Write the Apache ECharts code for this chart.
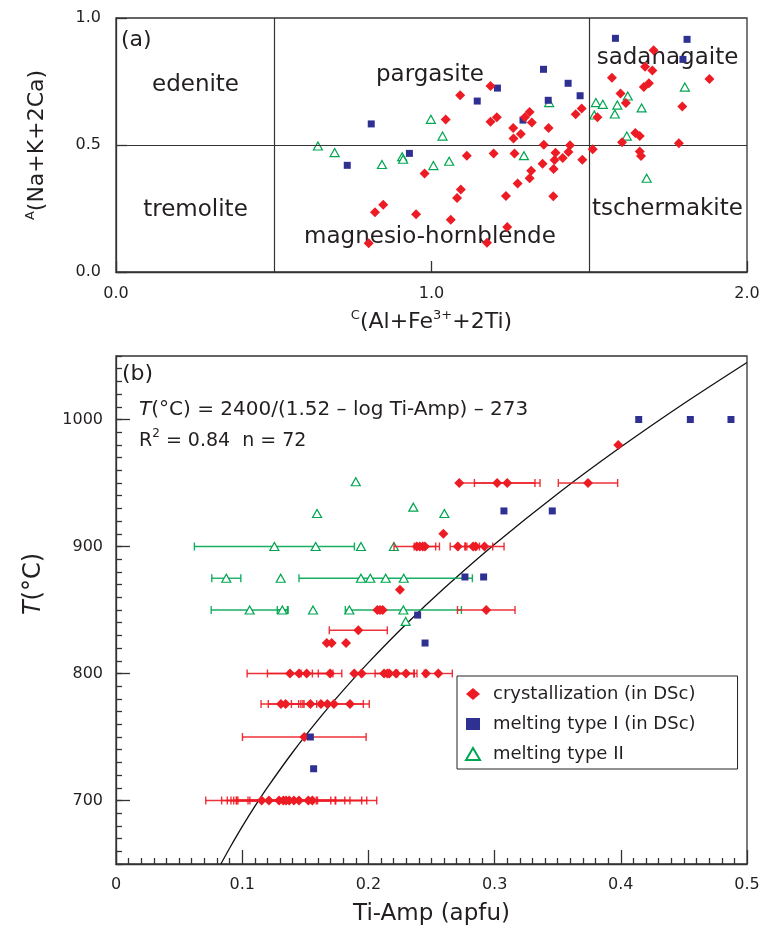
<!DOCTYPE html>
<html><head><meta charset="utf-8">
<script src="https://cdn.jsdelivr.net/npm/echarts@6/dist/echarts.min.js"></script>
<style>html,body{margin:0;padding:0;background:#fff}#c{width:765px;height:936px}</style>
</head><body><div id="c"></div>
<script>
const FONT = "'DejaVu Sans', sans-serif";
const RED = '#ed1c24', BLUE = '#2e3192', GREEN = '#00a651', INK = '#231f20';

// ---------- Panel (a) : classification ----------
const aCrystallization = [
 [1.187,0.732],[1.091,0.696],[1.045,0.600],[1.187,0.592],[1.207,0.609],[1.259,0.567],[1.283,0.543],
 [1.260,0.526],[1.296,0.609],[1.311,0.630],[1.318,0.589],[1.371,0.567],[1.457,0.621],[1.476,0.644],
 [1.526,0.609],[1.112,0.458],[1.197,0.467],[1.263,0.467],[1.356,0.501],[1.439,0.499],[1.393,0.469],
 [1.434,0.472],[1.416,0.449],[1.390,0.441],[1.352,0.426],[1.478,0.442],[1.511,0.483],[1.387,0.406],
 [1.316,0.399],[1.311,0.369],[1.273,0.348],[1.236,0.299],[1.386,0.298],[1.093,0.325],[1.081,0.291],
 [0.978,0.388],[0.847,0.265],[0.821,0.235],[0.951,0.227],[1.061,0.206],[1.240,0.177],[0.801,0.113],
 [1.176,0.115],[1.704,0.873],[1.677,0.808],[1.700,0.793],[1.572,0.765],[1.881,0.760],[1.673,0.728],
 [1.689,0.743],[1.599,0.703],[1.616,0.665],[1.795,0.652],[1.646,0.547],[1.660,0.535],[1.604,0.511],
 [1.784,0.507],[1.660,0.474],[1.664,0.457]
];
const aMeltingI = [
 [0.809,0.583],[1.145,0.673],[1.209,0.724],[1.355,0.798],[1.433,0.743],[1.370,0.676],[1.471,0.694],
 [1.290,0.598],[1.583,0.920],[1.810,0.916],[1.797,0.837],[0.733,0.420],[0.930,0.467]
];
const aMeltingII = [
 [0.998,0.601],[1.035,0.535],[1.373,0.667],[0.640,0.496],[0.693,0.470],[0.843,0.423],[0.907,0.454],
 [0.910,0.444],[1.006,0.419],[1.056,0.436],[1.293,0.458],[1.521,0.667],[1.543,0.660],[1.622,0.693],
 [1.589,0.657],[1.516,0.618],[1.581,0.622],[1.666,0.646],[1.803,0.728],[1.619,0.535],[1.682,0.369]
];
const aBoundaryX = [0.5, 1.5];
const aBoundaryY = [0.5];
const aFieldNames = ['edenite','tremolite','pargasite','magnesio-hornblende','sadanagaite','tschermakite'];
const aFieldPos = [[0.252,0.736],[0.252,0.244],[0.995,0.776],[0.995,0.137],[1.748,0.844],[1.748,0.248]];

// ---------- Panel (b) : thermometer ----------
// [Ti-Amp, T, half error bar]
const bCrystallization = [
 [0.398,980,0],
 [0.272,950,0],[0.302,950,0.030],[0.310,950,0.026],[0.374,950,0.0235],
 [0.2594,910,0],
 [0.2383,900,0.018],[0.2407,900,0],[0.243,900,0],[0.2448,900,0.0085],[0.2708,900,0.006],[0.283,900,0.005],[0.285,900,0.0135],[0.292,900,0.0155],
 [0.225,866,0],
 [0.2071,850,0],[0.2092,850,0],[0.2113,850,0],[0.2934,850,0.0228],
 [0.192,834,0.023],
 [0.167,824,0],[0.1709,824,0],[0.1823,824,0],
 [0.1379,800,0.034],[0.145,800,0.025],[0.1511,800,0.0045],[0.1696,800,0.0093],[0.1888,800,0],[0.1947,800,0],[0.2124,800,0],
 [0.215,800,0.021],[0.2166,800,0],[0.2219,800,0.0166],[0.2298,800,0.0066],[0.2456,800,0],[0.2554,800,0.0111],
 [0.1307,776,0.0158],[0.1344,776,0.0137],[0.154,776,0.005],[0.1624,776,0],[0.1675,776,0.0285],[0.1727,776,0.028],[0.1854,776,0],
 [0.1492,750,0.049],
 [0.1154,700,0.0443],[0.1212,700,0.0375],[0.1292,700,0.041],[0.1326,700,0.0415],[0.1347,700,0.039],
 [0.1373,700,0.044],[0.141,700,0.0444],[0.145,700,0.0497],[0.1524,700,0.0463],[0.1556,700,0.051]
];
const bMeltingI = [
 [0.4142,1000],[0.4551,1000],[0.4873,1000],[0.3074,928],[0.3457,928],[0.2765,876],[0.2913,876],
 [0.239,846],[0.2449,824],[0.154,750],[0.1566,725]
];
const bMeltingII = [
 [0.19,951,0],[0.1593,926,0],[0.2356,931,0],[0.2602,926,0],
 [0.1255,900,0.0634],[0.1582,900,0],[0.1941,900,0],[0.2202,900,0],
 [0.0874,875,0.0115],[0.1305,875,0],[0.1941,875,0],[0.2015,875,0],[0.2137,875,0.0687],[0.228,875,0],
 [0.1059,850,0.0305],[0.1318,850,0.004],[0.1561,850,0],[0.1849,850,0],[0.2277,850,0.046],
 [0.2295,841,0]
];
// fitted curve T = 2400/(1.52 - log Ti-Amp) - 273
const fitX = [0.0831,0.09,0.10,0.11,0.12,0.14,0.16,0.18,0.20,0.23,0.26,0.30,0.35,0.40,0.45,0.50];
const fitT = [650,662.4,679.4,695.3,710.3,738.0,763.3,786.7,808.6,839.0,867.1,901.8,941.6,978.3,1012.6,1044.9];
const bMajorT = [700,800,900,1000];

const NAMES = ['crystallization (in DSc)','melting type I (in DSc)','melting type II'];

function errRenderer(color) {
  return function (params, api) {
    const e = api.value(2);
    if (!e) return null;
    const x = api.value(0), y = api.value(1);
    const p1 = api.coord([x - e, y]), p2 = api.coord([x + e, y]);
    const h = 4;
    const style = { stroke: color, lineWidth: 1.4, opacity: 0.9 };
    return { type: 'group', children: [
      { type: 'line', shape: { x1: p1[0], y1: p1[1], x2: p2[0], y2: p2[1] }, style },
      { type: 'line', shape: { x1: p1[0], y1: p1[1] - h, x2: p1[0], y2: p1[1] + h }, style },
      { type: 'line', shape: { x1: p2[0], y1: p2[1] - h, x2: p2[0], y2: p2[1] + h }, style }
    ]};
  };
}

const axisLineStyle = { color: '#333', width: 1.3 };
const tickLbl = { fontFamily: FONT, fontSize: 16, color: INK };
const supRich = {
  n: { fontFamily: FONT, fontSize: 22, color: INK, lineHeight: 26 },
  sup: { fontFamily: FONT, fontSize: 13, color: INK, verticalAlign: 'top', lineHeight: 14 },
  it: { fontFamily: FONT, fontSize: 24, color: INK, fontStyle: 'italic', lineHeight: 28 },
  m: { fontFamily: FONT, fontSize: 24, color: INK, lineHeight: 28 }
};
const redStyle = { color: RED, opacity: 1 };
const blueStyle = { color: BLUE, opacity: 1 };
const greenStyle = { color: '#fff', borderColor: GREEN, borderWidth: 1.2, opacity: 1 };

const chart = echarts.init(document.getElementById('c'), null, { renderer: 'canvas' });
chart.setOption({
  animation: false,
  backgroundColor: '#fff',
  textStyle: { fontFamily: FONT },
  grid: [
    { left: 116, top: 18, width: 631, height: 254, show: true, borderColor: '#333', borderWidth: 1.3, containLabel: false, outerBoundsMode: 'none' },
    { left: 116, top: 356, width: 631, height: 508, show: true, borderColor: '#333', borderWidth: 1.3, containLabel: false, outerBoundsMode: 'none' }
  ],
  xAxis: [
    { gridIndex: 0, type: 'value', min: 0, max: 2, interval: 1,
      axisLine: { show: true, onZero: false, lineStyle: axisLineStyle },
      axisTick: { show: true, inside: true, length: 11, lineStyle: axisLineStyle },
      axisLabel: Object.assign({ margin: 14, formatter: v => v.toFixed(1) }, tickLbl),
      splitLine: { show: false },
      name: '{sup|C}{n|(Al+Fe}{sup|3+}{n|+2Ti)}', nameLocation: 'middle', nameGap: 37, nameMoveOverlap: false,
      nameTextStyle: { rich: supRich } },
    { gridIndex: 1, type: 'value', min: 0, max: 0.5, interval: 0.1,
      axisLine: { show: true, onZero: false, lineStyle: axisLineStyle },
      axisTick: { show: true, inside: true, length: 14, lineStyle: axisLineStyle },
      minorTick: { show: true, splitNumber: 10, length: 6, lineStyle: axisLineStyle },
      axisLabel: Object.assign({ margin: 13 }, tickLbl),
      splitLine: { show: false }, minorSplitLine: { show: false },
      name: 'Ti-Amp (apfu)', nameLocation: 'middle', nameGap: 39, nameMoveOverlap: false,
      nameTextStyle: { fontFamily: FONT, fontSize: 23, color: INK } }
  ],
  yAxis: [
    { gridIndex: 0, type: 'value', min: 0, max: 1, interval: 0.5,
      axisLine: { show: true, onZero: false, lineStyle: axisLineStyle },
      axisTick: { show: true, inside: true, length: 11, lineStyle: axisLineStyle },
      axisLabel: Object.assign({ margin: 15, formatter: v => v.toFixed(1) }, tickLbl),
      splitLine: { show: false },
      name: '{sup|A}{n|(Na+K+2Ca)}', nameLocation: 'middle', nameRotate: 90, nameGap: 66, nameMoveOverlap: false,
      nameTextStyle: { rich: supRich } },
    { gridIndex: 1, type: 'value', min: 650, max: 1050, interval: 10,
      axisLine: { show: true, onZero: false, lineStyle: axisLineStyle },
      axisTick: { show: true, inside: true, length: 6, lineStyle: axisLineStyle },
      axisLabel: { show: false },
      splitLine: { show: false } },
    { gridIndex: 1, type: 'value', min: 650, max: 1050, interval: 50, position: 'left',
      axisLine: { show: false },
      axisTick: { show: true, inside: true, length: 14, lineStyle: axisLineStyle, customValues: bMajorT },
      axisLabel: Object.assign({ margin: 13, customValues: bMajorT, formatter: v => String(v) }, tickLbl),
      splitLine: { show: false },
      name: '{it|T}{m|(°C)}', nameLocation: 'middle', nameRotate: 90, nameGap: 68, nameMoveOverlap: false,
      nameTextStyle: { rich: supRich, padding: [0, 0, 0, 52] } }
  ],
  legend: {
    data: NAMES, orient: 'vertical', left: 457, top: 676,
    padding: [8, 42, 5, 8], itemGap: 10, itemWidth: 14, itemHeight: 12,
    symbolKeepAspect: true,
    borderColor: '#222', borderWidth: 1, borderRadius: 0, backgroundColor: '#fff',
    textStyle: { fontFamily: FONT, fontSize: 18, color: INK, lineHeight: 20, padding: [0, 0, 0, 8] },
    selectedMode: false
  },
  graphic: [
    { type: 'text', left: 121, top: 29, style: { text: '(a)', font: "22px 'DejaVu Sans'", fill: INK } },
    { type: 'text', left: 122, top: 363, style: { text: '(b)', font: "22px 'DejaVu Sans'", fill: INK } },
    { type: 'text', left: 139, top: 400, style: {
        text: '{i|T}{n|(°C) = 2400/(1.52 – log Ti-Amp) – 273}',
        rich: { i: { fontFamily: FONT, fontSize: 20, fontStyle: 'italic', fill: INK, lineHeight: 26 },
                n: { fontFamily: FONT, fontSize: 20, fill: INK, lineHeight: 26 } } } },
    { type: 'text', left: 139, top: 428, style: {
        text: '{n|R}{s|2}{n| = 0.84  n = 72}',
        rich: { n: { fontFamily: FONT, fontSize: 19, fill: INK, lineHeight: 26 },
                s: { fontFamily: FONT, fontSize: 12, fill: INK, verticalAlign: 'top', lineHeight: 16 } } } }
  ],
  series: [
    // panel (a)
    { type: 'scatter', name: 'boundaries', xAxisIndex: 0, yAxisIndex: 0, data: [], silent: true, z: 1,
      markLine: { silent: true, symbol: ['none', 'none'], animation: false,
        lineStyle: { color: '#333', width: 1.2, type: 'solid' }, label: { show: false },
        data: aBoundaryX.map(v => ({ xAxis: v })).concat(aBoundaryY.map(v => ({ yAxis: v }))) } },
    { type: 'scatter', name: 'fields', xAxisIndex: 0, yAxisIndex: 0, symbolSize: 0, silent: true, z: 2,
      data: aFieldNames.map((n, i) => ({ name: n, value: aFieldPos[i] })),
      label: { show: true, position: 'inside', formatter: p => p.name, fontFamily: FONT, fontSize: 23,
               color: INK, textBorderWidth: 0, opacity: 1 } },
    { type: 'scatter', name: NAMES[2], xAxisIndex: 0, yAxisIndex: 0, data: aMeltingII, z: 3, symbolKeepAspect: true,
      symbol: 'triangle', symbolSize: [9, 8], itemStyle: greenStyle },
    { type: 'scatter', name: NAMES[1], xAxisIndex: 0, yAxisIndex: 0, data: aMeltingI, z: 4, symbolKeepAspect: true,
      symbol: 'rect', symbolSize: 7, itemStyle: blueStyle },
    { type: 'scatter', name: NAMES[0], xAxisIndex: 0, yAxisIndex: 0, data: aCrystallization, z: 5, symbolKeepAspect: true,
      symbol: 'diamond', symbolSize: 10, itemStyle: redStyle },
    // panel (b)
    { type: 'line', name: 'fit', xAxisIndex: 1, yAxisIndex: 1, data: fitX.map((x, i) => [x, fitT[i]]),
      smooth: 0.3, showSymbol: false, symbol: 'none', clip: true, silent: true, z: 2,
      lineStyle: { color: '#111', width: 1.3 } },
    { type: 'custom', name: 'melting II error', xAxisIndex: 1, yAxisIndex: 1, data: bMeltingII, z: 3,
      encode: { x: 0, y: 1 }, renderItem: errRenderer(GREEN), silent: true },
    { type: 'scatter', name: NAMES[2], xAxisIndex: 1, yAxisIndex: 1, data: bMeltingII, z: 4,
      symbol: 'triangle', symbolSize: [9, 8], itemStyle: greenStyle },
    { type: 'custom', name: 'crystallization error', xAxisIndex: 1, yAxisIndex: 1, data: bCrystallization, z: 5,
      encode: { x: 0, y: 1 }, renderItem: errRenderer(RED), silent: true },
    { type: 'scatter', name: NAMES[0], xAxisIndex: 1, yAxisIndex: 1, data: bCrystallization, z: 6,
      symbol: 'diamond', symbolSize: 10, itemStyle: redStyle },
    { type: 'scatter', name: NAMES[1], xAxisIndex: 1, yAxisIndex: 1, data: bMeltingI, z: 7,
      symbol: 'rect', symbolSize: 7, itemStyle: blueStyle }
  ]
});
</script>
</body></html>
